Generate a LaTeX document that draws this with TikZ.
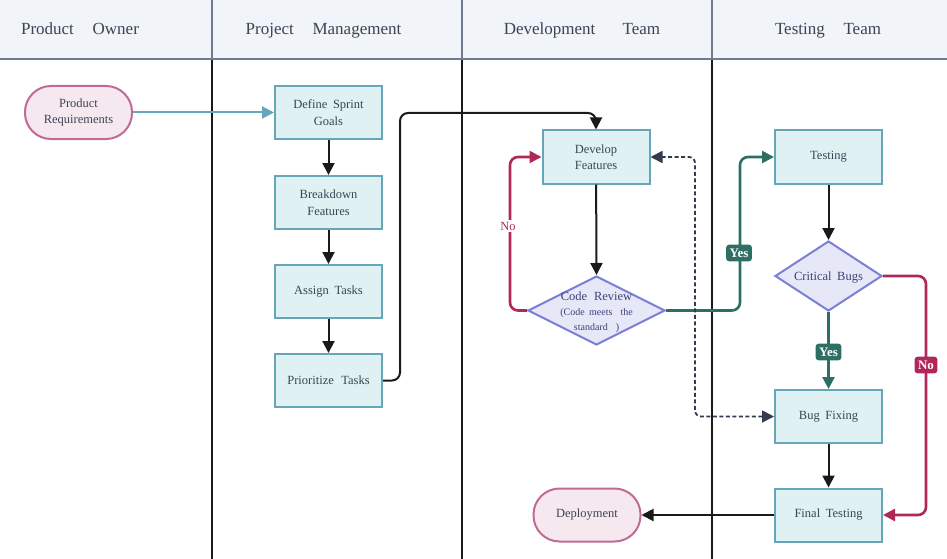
\documentclass[tikz,border=0pt]{standalone}
\usepackage{fontspec}
\setmainfont{Liberation Serif}
\usetikzlibrary{arrows.meta,shapes.geometric}
\definecolor{hdrfill}{HTML}{F1F4F9}
\definecolor{hdrline}{HTML}{6E7A8E}
\definecolor{boxfill}{HTML}{DFF1F3}
\definecolor{boxline}{HTML}{67A6B8}
\definecolor{pinkfill}{HTML}{F5E8EF}
\definecolor{pinkline}{HTML}{C06A95}
\definecolor{diafill}{HTML}{E6E8F7}
\definecolor{dialine}{HTML}{7B7FD6}
\definecolor{diatext}{HTML}{3E3F7A}
\definecolor{nodetext}{HTML}{3B4453}
\definecolor{crimson}{HTML}{B0285A}
\definecolor{darkteal}{HTML}{2E6E64}
\definecolor{dashcol}{HTML}{333B4C}
\definecolor{linkblack}{HTML}{1A1A1A}
\begin{document}
\begin{tikzpicture}[x=1pt,y=-1pt,
  hdrtext/.style={font=\fontsize{17}{20}\selectfont, text=nodetext, anchor=base},
  procbox/.style={draw=boxline, line width=2pt, fill=boxfill, minimum width=107pt, minimum height=53pt, inner sep=0pt, align=center, text=nodetext, font=\fontsize{12.5}{16.5}\selectfont},
  stadium/.style={draw=pinkline, line width=2pt, fill=pinkfill, rounded corners=26pt, minimum width=107pt, minimum height=53pt, inner sep=0pt, align=center, text=nodetext, font=\fontsize{12.5}{16.5}\selectfont},
  diabox/.style={diamond, draw=dialine, line width=2pt, fill=diafill, inner sep=0pt},
  diatextstyle/.style={align=center, text=diatext, inner sep=0pt},
  link/.style={draw=linkblack, line width=2pt, -{Triangle[length=12pt,width=12pt]}},
  tealink/.style={draw=boxline, line width=2pt, -{Triangle[length=12pt,width=12pt]}},
  nolink/.style={draw=crimson, line width=2.6pt, rounded corners=8pt, -{Triangle[length=12pt,width=12pt]}},
  yeslink/.style={draw=darkteal, line width=2.6pt, rounded corners=8pt, -{Triangle[length=12pt,width=12pt]}},
  dashlink/.style={draw=dashcol, line width=1.8pt, dash pattern=on 4pt off 2.5pt, rounded corners=6pt, {Triangle[length=12pt,width=12pt]}-{Triangle[length=12pt,width=12pt]}},
  tag/.style={rounded corners=3pt, text=white, font=\fontsize{13}{15}\selectfont\bfseries, inner xsep=3.5pt, inner ysep=4pt}
]
\useasboundingbox (0,0) rectangle (947,559);
% header band
\fill[hdrfill] (0,0) rectangle (947,59);
% lane separators
\foreach \lx in {212,462,712}{
  \draw[linkblack, line width=2pt] (\lx,59) -- (\lx,559);
  \draw[hdrline, line width=2.4pt] (\lx,0) -- (\lx,59);
}
\draw[hdrline, line width=2.4pt] (0,59) -- (947,59);
% header texts
\node[hdrtext] (h1) at (80,35) {Product\hspace{1.1em}Owner};
\node[hdrtext] (h2) at (323.5,35) {Project\hspace{1.1em}Management};
\node[hdrtext] (h3) at (582,35) {Development\hspace{1.6em}Team};
\node[hdrtext] (h4) at (828,35) {Testing\hspace{1.1em}Team};

% nodes
\node[stadium] (req) at (78.5,112.5) {Product\\Requirements};
\node[procbox] (define) at (328.5,112.5) {Define\hspace{0.45em}Sprint\\Goals};
\node[procbox] (breakdown) at (328.5,202.5) {Breakdown\\Features};
\node[procbox] (assign) at (328.5,291.5) {Assign\hspace{0.45em}Tasks};
\node[procbox] (prio) at (328.5,380.5) {Prioritize\hspace{0.6em}Tasks};
\node[procbox] (dev) at (596,157) {Develop\\Features};
\node[diabox, minimum width=137pt, minimum height=69pt] (review) at (596.5,310.5) {};
\node[diatextstyle] (reviewtxt) at (596.5,312) {{\fontsize{12.5}{15}\selectfont Code\hspace{0.55em}Review}\\[2.5pt]{\fontsize{10}{14}\selectfont (Code\hspace{0.45em}meets\hspace{0.8em}the}\\[3pt]{\fontsize{10}{13}\selectfont standard\hspace{0.8em})}};
\node[procbox] (test) at (828.5,157) {Testing};
\node[diabox, minimum width=107pt, minimum height=70pt] (crit) at (828.5,276) {};
\node[diatextstyle, font=\fontsize{12.5}{15}\selectfont] (crittxt) at (828.5,277.5) {Critical\hspace{0.45em}Bugs};
\node[procbox] (bugfix) at (828.5,416.5) {Bug\hspace{0.45em}Fixing};
\node[procbox] (final) at (828.5,515) {Final\hspace{0.45em}Testing};
\node[stadium] (deploy) at (587,515) {Deployment};

% connectors
\draw[tealink] (req.east) -- (define.west);
\draw[link] (define) -- (breakdown);
\draw[link] (breakdown) -- (assign);
\draw[link] (assign) -- (prio);
\draw[link, rounded corners=8pt] (prio.east) -- (400,380.5) |- (596,113) -- (dev.north);
\draw[link] (dev) -- (review.north);
\draw[nolink] (review.west) -- (510,310.5) |- (dev.west);
\draw[yeslink] (review.east) -- (740,310.5) |- (test.west);
\draw[link] (test) -- (crit.north);
\draw[yeslink] (crit.south) -- (bugfix.north);
\draw[nolink] (crit.east) -- (926,276) |- (final.east);
\draw[link] (bugfix) -- (final);
\draw[link] (final) -- (deploy);
\draw[dashlink] (bugfix.west) -- (695,416.5) |- (dev.east);

% labels
\node[fill=white, text=crimson, font=\fontsize{12.5}{14}\selectfont, inner sep=2pt] (nolab1) at (508,226) {No};
\node[tag, fill=darkteal] (yeslab1) at (739,253) {Yes};
\node[tag, fill=darkteal] (yeslab2) at (828.5,352) {Yes};
\node[tag, fill=crimson] (nolab2) at (926,365) {No};
\end{tikzpicture}
\end{document}
